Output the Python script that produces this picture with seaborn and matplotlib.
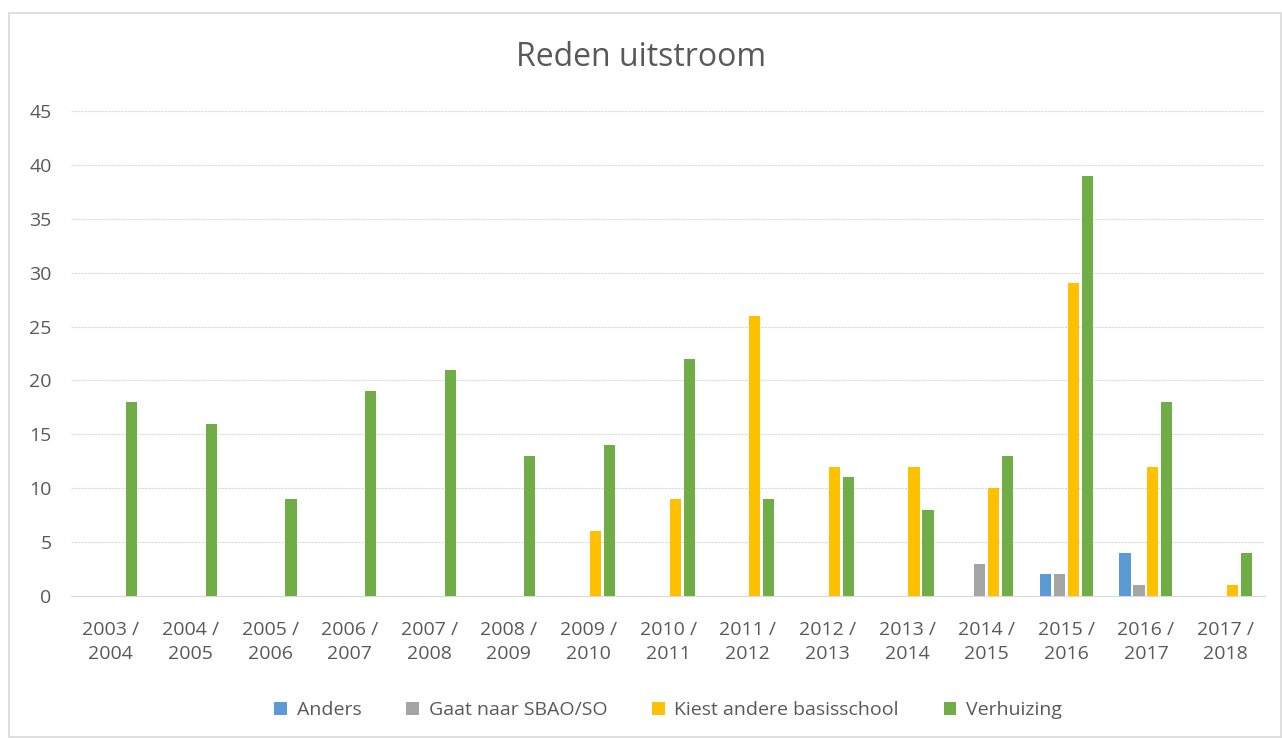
import pandas as pd
import matplotlib.pyplot as plt
import seaborn as sns
from matplotlib.patches import Rectangle

# Schooljaren en redenen van uitstroom
years = ['2003 /\n2004', '2004 /\n2005', '2005 /\n2006', '2006 /\n2007', '2007 /\n2008',
         '2008 /\n2009', '2009 /\n2010', '2010 /\n2011', '2011 /\n2012', '2012 /\n2013',
         '2013 /\n2014', '2014 /\n2015', '2015 /\n2016', '2016 /\n2017', '2017 /\n2018']
anders = [0, 0, 0, 0, 0, 0, 0, 0, 0, 0, 0, 0, 2, 4, 0]
sbao = [0, 0, 0, 0, 0, 0, 0, 0, 0, 0, 0, 3, 2, 1, 0]
basisschool = [0, 0, 0, 0, 0, 0, 6, 9, 26, 12, 12, 10, 29, 12, 1]
verhuizing = [18, 16, 9, 19, 21, 13, 14, 22, 9, 11, 8, 13, 39, 18, 4]

series = ['Anders', 'Gaat naar SBAO/SO', 'Kiest andere basisschool', 'Verhuizing']
colors = ['#5B9BD5', '#A5A5A5', '#FFC000', '#70AD47']

rows = []
for name, vals in zip(series, [anders, sbao, basisschool, verhuizing]):
    for y, v in zip(years, vals):
        rows.append({'Jaar': y, 'Reden': name, 'Aantal': v})
df = pd.DataFrame(rows)

sns.set_style("white")
plt.rcParams['font.family'] = ['Open Sans', 'DejaVu Sans']

fig = plt.figure(figsize=(12.82, 7.38), dpi=100)
ax = fig.add_axes([0.0554, 0.1924, 0.9316, 0.6572])

sns.barplot(data=df, x='Jaar', y='Aantal', hue='Reden', order=years, hue_order=series,
            palette=colors, saturation=1, width=0.7, gap=0.2, linewidth=0, ax=ax, zorder=3)

ax.set_ylim(0, 45)
ax.set_yticks(range(0, 46, 5))
ax.set_xlim(-0.5, len(years) - 0.5)
ax.set_xlabel('')
ax.set_ylabel('')
ax.grid(axis='y', color='#D9D9D9', linewidth=0.8, linestyle=(0, (2, 1)), zorder=0)
for s in ['top', 'right', 'left']:
    ax.spines[s].set_visible(False)
ax.spines['bottom'].set_color('#D9D9D9')
ax.tick_params(axis='both', colors='#595959', labelsize=14, length=0)
ax.tick_params(axis='y', pad=14)
ax.tick_params(axis='x', pad=18)
for lbl in ax.get_xticklabels():
    lbl.set_linespacing(1.45)

fig.text(0.5, 0.922, 'Reden uitstroom', ha='center', va='center', fontsize=23, color='#595959')

ax.legend(loc='center', bbox_to_anchor=(0.5, -0.235), ncol=4, frameon=False,
          fontsize=14, labelcolor='#595959', handlelength=0.65, handleheight=0.65,
          handletextpad=0.5, columnspacing=2.3)

fig.patches.append(Rectangle((9 / 1282, 0.002), 1 - 9 / 1282 - 0.001, 1 - 13 / 738 - 0.002,
                             transform=fig.transFigure, fill=False, edgecolor='#D9D9D9',
                             linewidth=1.2))

fig.savefig('out.png', dpi=100)
